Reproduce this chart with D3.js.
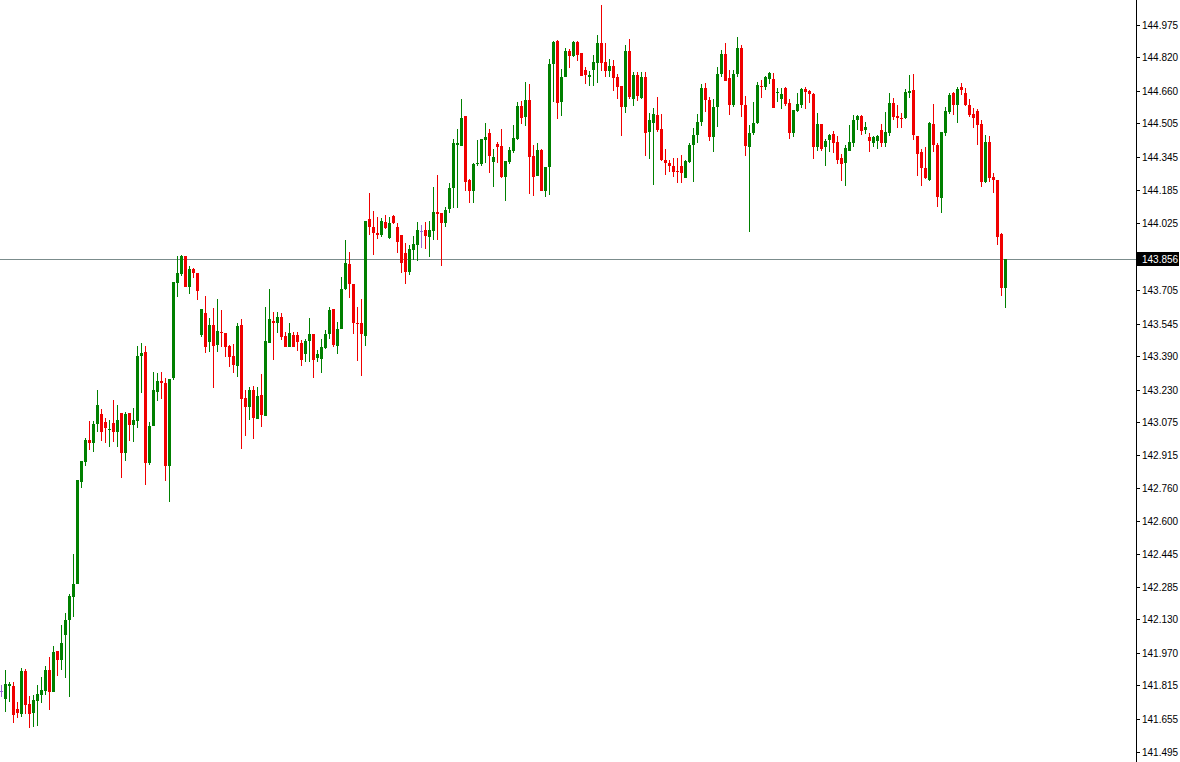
<!DOCTYPE html>
<html>
<head>
<meta charset="utf-8">
<script src="https://cdn.jsdelivr.net/npm/d3@7"></script>
<style>
  html, body { margin: 0; padding: 0; background: #fff; }
  svg { display: block; }
  text { font-family: "Liberation Sans", "DejaVu Sans", sans-serif; font-size: 10px; }
</style>
</head>
<body>
<svg id="chart" width="1180" height="762"></svg>
<script>
// OHLC values, one entry per candle (oldest first)
var opens = [141.787,141.749,141.811,141.811,141.701,141.677,141.883,141.725,141.682,141.739,141.768,141.787,141.888,141.782,141.978,141.935,142.055,142.127,142.237,142.299,
142.788,142.884,142.989,142.974,143.065,143.113,143.075,143.036,143.070,143.027,143.118,142.926,143.118,143.060,143.080,143.391,143.410,142.879,143.056,143.219,
143.271,143.262,142.864,143.286,143.740,143.783,143.870,143.721,143.807,143.788,143.491,143.597,143.458,143.539,143.444,143.506,143.501,143.439,143.391,143.343,
143.539,143.190,143.147,143.228,143.089,143.204,143.104,143.453,143.558,143.549,143.578,143.487,143.434,143.491,143.491,143.453,143.401,143.463,143.496,143.381,
143.377,143.429,143.496,143.616,143.439,143.520,143.712,143.831,143.736,143.549,143.549,143.487,144.047,144.008,143.980,143.970,144.032,143.956,144.061,144.008,
143.970,143.884,143.793,143.898,143.922,143.989,143.994,143.961,143.989,144.080,144.076,144.028,144.095,144.195,144.401,144.396,144.540,144.233,144.181,144.310,
144.310,144.425,144.458,144.319,144.406,144.396,144.248,144.319,144.372,144.430,144.588,144.535,144.616,144.348,144.253,144.377,144.181,144.296,144.789,144.899,
144.607,144.726,144.851,144.827,144.894,144.841,144.760,144.726,144.760,144.794,144.889,144.798,144.755,144.779,144.726,144.683,144.583,144.851,144.621,144.736,
144.626,144.726,144.463,144.506,144.545,144.478,144.329,144.315,144.300,144.276,144.300,144.243,144.319,144.401,144.449,144.511,144.674,144.616,144.439,144.583,
144.741,144.837,144.722,144.592,144.741,144.865,144.592,144.391,144.458,144.506,144.683,144.679,144.717,144.717,144.650,144.621,144.674,144.602,144.458,144.564,
144.592,144.669,144.659,144.645,144.391,144.502,144.391,144.425,144.454,144.415,144.339,144.315,144.372,144.411,144.521,144.540,144.473,144.439,144.411,144.420,
144.473,144.411,144.458,144.602,144.540,144.530,144.530,144.650,144.664,144.444,144.367,144.291,144.233,144.502,144.401,144.147,144.458,144.559,144.650,144.592,
144.679,144.650,144.592,144.549,144.564,144.502,144.224,144.415,144.248,144.233,143.975,143.716];

var highs = [141.816,141.888,141.830,141.830,141.734,141.897,141.892,141.763,141.768,141.816,141.854,141.907,141.950,142.002,141.978,142.103,142.161,142.252,142.443,142.797,
142.888,142.998,143.080,143.080,143.228,143.137,143.094,143.085,143.180,143.156,143.118,143.123,143.118,143.142,143.439,143.453,143.439,143.075,143.314,143.310,
143.314,143.286,143.281,143.745,143.870,143.874,143.870,143.822,143.812,143.788,143.616,143.678,143.573,143.621,143.664,143.611,143.501,143.444,143.448,143.549,
143.568,143.228,143.243,143.247,143.243,143.305,143.625,143.712,143.601,143.601,143.597,143.506,143.549,143.506,143.506,143.467,143.472,143.573,143.496,143.420,
143.472,143.515,143.625,143.616,143.554,143.769,143.946,143.889,143.736,143.625,143.664,144.037,144.171,144.085,144.056,144.052,144.066,144.056,144.066,144.028,
143.970,143.932,143.922,143.965,144.032,144.018,144.032,144.037,144.200,144.257,144.076,144.104,144.219,144.430,144.478,144.621,144.540,144.238,144.315,144.425,
144.430,144.506,144.478,144.382,144.415,144.478,144.324,144.391,144.497,144.607,144.612,144.702,144.693,144.401,144.411,144.382,144.296,144.813,144.899,144.904,
144.765,144.865,144.860,144.899,144.899,144.841,144.774,144.755,144.832,144.928,145.071,144.889,144.813,144.808,144.741,144.683,144.880,144.908,144.750,144.750,
144.750,144.750,144.554,144.578,144.631,144.549,144.382,144.329,144.339,144.339,144.353,144.329,144.411,144.482,144.549,144.693,144.698,144.631,144.621,144.774,
144.856,144.889,144.760,144.760,144.918,144.880,144.635,144.497,144.607,144.702,144.712,144.731,144.750,144.746,144.674,144.674,144.679,144.621,144.569,144.650,
144.674,144.679,144.664,144.650,144.554,144.502,144.430,144.454,144.468,144.444,144.358,144.401,144.497,144.545,144.545,144.545,144.511,144.458,144.444,144.449,
144.502,144.559,144.650,144.626,144.592,144.554,144.669,144.736,144.741,144.444,144.382,144.391,144.511,144.597,144.411,144.463,144.583,144.650,144.655,144.679,
144.698,144.674,144.621,144.578,144.573,144.521,144.449,144.444,144.267,144.233,143.980,143.856];

var lows = [141.758,141.687,141.734,141.634,141.658,141.663,141.677,141.610,141.615,141.620,141.730,141.768,141.696,141.782,141.859,141.888,141.849,141.758,142.141,142.299,
142.759,142.864,142.941,142.931,143.027,142.984,142.974,142.955,142.979,142.955,142.807,142.888,142.984,142.979,143.046,143.214,142.773,142.869,143.056,143.175,
143.185,142.793,142.692,143.276,143.673,143.774,143.721,143.688,143.764,143.659,143.482,143.405,143.410,143.238,143.410,143.434,143.386,143.338,143.310,143.290,
142.946,143.008,143.085,142.993,143.089,143.051,143.104,143.453,143.372,143.501,143.467,143.434,143.434,143.434,143.415,143.343,143.362,143.362,143.286,143.362,
143.310,143.425,143.472,143.434,143.401,143.520,143.707,143.669,143.496,143.367,143.295,143.439,143.970,143.874,143.951,143.961,143.999,143.951,144.023,143.884,
143.788,143.736,143.779,143.851,143.846,143.908,143.903,143.865,143.946,143.946,143.822,144.008,144.076,144.099,144.099,144.396,144.181,144.123,144.123,144.300,
144.300,144.315,144.267,144.200,144.315,144.243,144.133,144.310,144.363,144.425,144.502,144.492,144.166,144.157,144.253,144.181,144.152,144.162,144.607,144.525,
144.540,144.726,144.770,144.822,144.803,144.731,144.693,144.683,144.683,144.698,144.755,144.726,144.726,144.659,144.621,144.444,144.554,144.621,144.588,144.612,
144.621,144.348,144.334,144.209,144.463,144.324,144.257,144.272,144.248,144.219,144.219,144.243,144.315,144.224,144.411,144.492,144.559,144.420,144.367,144.487,
144.726,144.707,144.545,144.583,144.726,144.535,144.348,143.985,144.449,144.502,144.626,144.664,144.693,144.578,144.607,144.573,144.588,144.430,144.439,144.559,
144.578,144.573,144.602,144.334,144.372,144.372,144.300,144.367,144.363,144.310,144.228,144.205,144.372,144.391,144.473,144.449,144.454,144.367,144.391,144.382,
144.391,144.391,144.444,144.521,144.482,144.482,144.525,144.626,144.425,144.253,144.205,144.238,144.228,144.367,144.104,144.075,144.444,144.549,144.545,144.506,
144.640,144.588,144.535,144.482,144.401,144.200,144.219,144.224,144.171,143.922,143.678,143.621];

var closes = [141.787,141.821,141.821,141.672,141.682,141.883,141.720,141.677,141.744,141.773,141.792,141.888,141.782,141.974,141.935,142.017,142.127,142.242,142.299,142.797,
142.888,142.989,142.974,143.065,143.156,143.027,143.046,143.041,143.027,143.085,142.926,143.113,143.060,143.085,143.391,143.405,142.879,143.056,143.228,143.271,
143.262,142.864,143.281,143.745,143.788,143.870,143.721,143.807,143.788,143.702,143.616,143.434,143.539,143.439,143.510,143.501,143.434,143.386,143.348,143.534,
143.185,143.147,143.228,143.094,143.199,143.108,143.463,143.568,143.549,143.578,143.482,143.434,143.501,143.434,143.458,143.372,143.463,143.496,143.372,143.401,
143.434,143.496,143.611,143.444,143.520,143.712,143.836,143.736,143.549,143.546,143.496,144.037,144.008,143.980,143.970,144.037,144.004,144.028,144.028,143.936,
143.836,143.793,143.903,143.927,143.994,143.989,143.965,143.994,144.080,144.071,144.028,144.090,144.195,144.411,144.411,144.530,144.224,144.181,144.310,144.315,
144.430,144.439,144.348,144.343,144.391,144.248,144.324,144.377,144.434,144.588,144.530,144.616,144.343,144.248,144.377,144.181,144.296,144.789,144.894,144.602,
144.726,144.851,144.827,144.894,144.832,144.731,144.736,144.736,144.798,144.889,144.794,144.755,144.779,144.722,144.679,144.583,144.851,144.631,144.736,144.635,
144.726,144.458,144.521,144.549,144.473,144.329,144.315,144.300,144.272,144.272,144.267,144.324,144.401,144.449,144.511,144.674,144.616,144.439,144.583,144.741,
144.837,144.707,144.592,144.741,144.865,144.592,144.396,144.458,144.506,144.688,144.679,144.726,144.746,144.578,144.655,144.645,144.597,144.458,144.569,144.597,
144.669,144.655,144.645,144.391,144.502,144.382,144.420,144.449,144.411,144.329,144.310,144.387,144.415,144.521,144.540,144.468,144.487,144.420,144.439,144.444,
144.411,144.463,144.602,144.535,144.530,144.525,144.655,144.659,144.449,144.358,144.291,144.243,144.506,144.401,144.152,144.463,144.564,144.640,144.592,144.669,
144.664,144.592,144.545,144.530,144.497,144.224,144.415,144.243,144.233,143.961,143.716,143.856];

// price scale labels shown on the right
var priceTicks = [144.975,144.820,144.660,144.505,144.345,144.185,144.025,143.705,143.545,143.390,143.230,
                  143.075,142.915,142.760,142.600,142.445,142.285,142.130,141.970,141.815,141.655,141.495];

var W = 1180, H = 762, axisX = 1136;
var svg = d3.select("#chart");

var candles = opens.map(function (o, i) {
    return {i: i, o: o, h: highs[i], l: lows[i], c: closes[i]};
});

var x = d3.scaleLinear().domain([0, candles.length - 1]).range([1, 1005]);
var y = d3.scaleLinear().domain([141.495, 144.975]).range([752, 25]);

function colorOf(d) {
    if (d.c > d.o) return "#008000";
    if (d.c < d.o) return "#f00000";
    return "#9966cc";
}

// current price line (drawn under candles)
var last = closes[closes.length - 1];
var ly = Math.round(y(last)) + 0.5;
svg.append("line")
    .attr("x1", 0).attr("x2", axisX)
    .attr("y1", ly).attr("y2", ly)
    .attr("stroke", "#7b8c8c")
    .attr("stroke-width", 1);

var g = svg.append("g").attr("shape-rendering", "crispEdges");

var candle = g.selectAll("g.candle")
    .data(candles)
    .enter().append("g")
    .attr("class", "candle");

candle.append("line")
    .attr("x1", d => Math.round(x(d.i)) + 0.5)
    .attr("x2", d => Math.round(x(d.i)) + 0.5)
    .attr("y1", d => y(d.h))
    .attr("y2", d => y(d.l))
    .attr("stroke", colorOf)
    .attr("stroke-width", 1);

candle.append("rect")
    .attr("x", d => Math.round(x(d.i)) - 1)
    .attr("width", 3)
    .attr("y", d => y(Math.max(d.o, d.c)))
    .attr("height", d => Math.max(1, Math.abs(y(d.o) - y(d.c))))
    .attr("fill", colorOf);

// right price axis
var axis = svg.append("g").attr("shape-rendering", "crispEdges");
axis.append("line")
    .attr("x1", axisX + 0.5).attr("x2", axisX + 0.5)
    .attr("y1", 0).attr("y2", H)
    .attr("stroke", "#000");

var tick = axis.selectAll("g.tick")
    .data(priceTicks)
    .enter().append("g")
    .attr("class", "tick")
    .attr("transform", d => `translate(0,${Math.round(y(d))})`);

tick.append("line")
    .attr("x1", axisX).attr("x2", axisX + 4)
    .attr("y1", 0.5).attr("y2", 0.5)
    .attr("stroke", "#000");

tick.append("text")
    .attr("x", axisX + 6)
    .attr("y", 0)
    .attr("dy", "0.35em")
    .attr("fill", "#000")
    .text(d => d.toFixed(3));

// current price tag
var tag = svg.append("g").attr("transform", `translate(0,${Math.round(y(last))})`);
tag.append("rect")
    .attr("x", axisX + 1).attr("y", -7)
    .attr("width", 42).attr("height", 14)
    .attr("fill", "#000");
tag.append("text")
    .attr("x", axisX + 6).attr("y", 0)
    .attr("dy", "0.35em")
    .attr("fill", "#fff")
    .text(last.toFixed(3));
</script>
</body>
</html>
